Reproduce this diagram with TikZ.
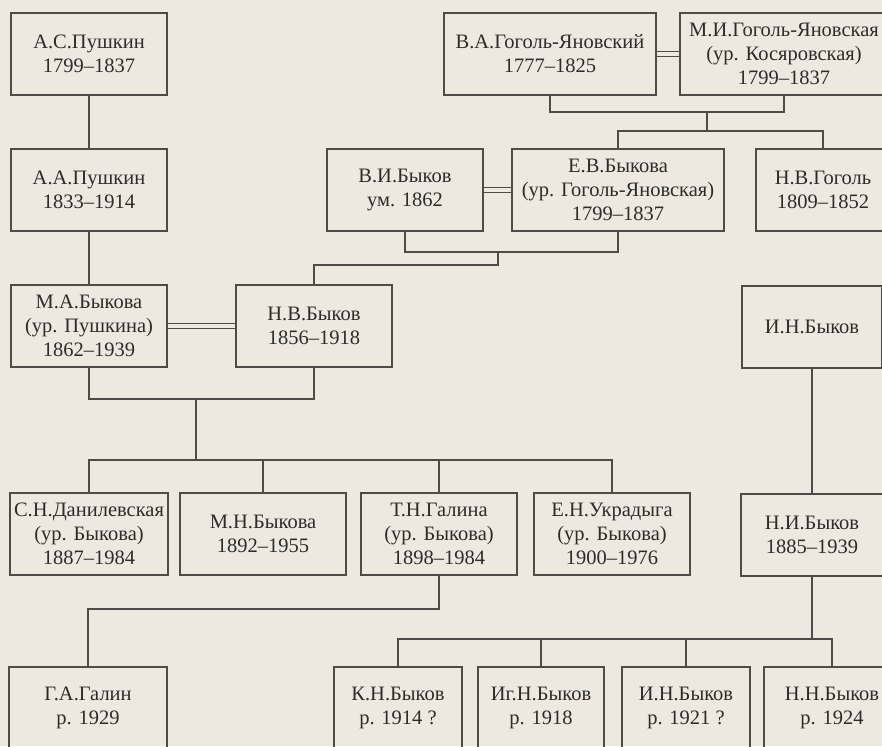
\documentclass[tikz,border=0pt]{standalone}
\usepackage{fontspec}
\setmainfont{Liberation Serif}
\definecolor{bgc}{HTML}{EDE9E1}
\definecolor{lnc}{HTML}{4E4B48}
\definecolor{txc}{HTML}{2E2C2A}
\begin{document}
\begin{tikzpicture}[x=1pt,y=-1pt,
  pb/.style={draw=lnc, line width=1.1pt, rectangle, inner sep=0pt, minimum height=82pt,
    align=center, text=txc, font=\fontsize{20.5}{24}\selectfont},
  ln/.style={draw=lnc, line width=1.1pt},
  wed/.style={draw=lnc, line width=1pt, double=bgc, double distance=4.5pt}]
\useasboundingbox (0,0) rectangle (882,746);
\clip (0,0) rectangle (882,746);
\fill[bgc] (0,0) rectangle (882,746);
% nodes
\node[pb, minimum width=156pt] (p1) at (89,54) {А.С.Пушкин\\1799–1837};
\node[pb, minimum width=156pt] (p2) at (89,190) {А.А.Пушкин\\1833–1914};
\node[pb, minimum width=212pt] (va) at (550,54) {В.А.Гоголь-Яновский\\1777–1825};
\node[pb, minimum width=208pt] (mi) at (784,54) {М.И.Гоголь-Яновская\\(ур. Косяровская)\\1799–1837};
\node[pb, minimum width=156pt] (vi) at (405,190) {В.И.Быков\\ум. 1862};
\node[pb, minimum width=212pt] (ev) at (618,190) {Е.В.Быкова\\(ур. Гоголь-Яновская)\\1799–1837};
\node[pb, minimum width=134pt] (ng) at (823,190) {Н.В.Гоголь\\1809–1852};
\node[pb, minimum width=156pt] (mab) at (89,326) {М.А.Быкова\\(ур. Пушкина)\\1862–1939};
\node[pb, minimum width=156pt] (nb) at (314,326) {Н.В.Быков\\1856–1918};
\node[pb, minimum width=140pt] (ib) at (812,327) {И.Н.Быков};
\node[pb, minimum width=158pt] (sn) at (89,534) {С.Н.Данилевская\\(ур. Быкова)\\1887–1984};
\node[pb, minimum width=166pt] (mn) at (263,534) {М.Н.Быкова\\1892–1955};
\node[pb, minimum width=156pt] (tg) at (439,534) {Т.Н.Галина\\(ур. Быкова)\\1898–1984};
\node[pb, minimum width=156pt] (en) at (612,534) {Е.Н.Украдыга\\(ур. Быкова)\\1900–1976};
\node[pb, minimum width=142pt] (nib) at (812,535) {Н.И.Быков\\1885–1939};
\node[pb, minimum width=158pt] (ga) at (88,708) {Г.А.Галин\\р. 1929};
\node[pb, minimum width=128pt] (kn) at (398,708) {К.Н.Быков\\р. 1914 ?};
\node[pb, minimum width=126pt] (ig) at (541,708) {Иг.Н.Быков\\р. 1918};
\node[pb, minimum width=128pt] (in) at (686,708) {И.Н.Быков\\р. 1921 ?};
\node[pb, minimum width=136pt] (nn) at (832,708) {Н.Н.Быков\\р. 1924};
% marriages
\draw[wed] (va.east) -- (mi.west);
\draw[wed] (vi.east) -- (ev.west);
\draw[wed] (mab.east) -- (nb.west);
% coordinates
\coordinate (m1) at (707,112);
\coordinate (c1) at (707,131);
\coordinate (m2) at (498,252);
\coordinate (c2) at (498,265);
\coordinate (m3) at (196,399);
\coordinate (c3) at (196,460);
\coordinate (c4) at (812,639);
\coordinate (c5) at (88,609);
% connectors
\draw[ln] (p1.south) -- (p2.north);
\draw[ln] (p2.south) -- (mab.north);
\draw[ln] (va.south) |- (m1) -| (mi.south);
\draw[ln] (m1) -- (c1);
\draw[ln] (ev.north) |- (c1) -| (ng.north);
\draw[ln] (vi.south) |- (m2) -| (ev.south);
\draw[ln] (m2) -- (c2) -| (nb.north);
\draw[ln] (mab.south) |- (m3) -| (nb.south);
\draw[ln] (m3) -- (c3);
\draw[ln] (sn.north) |- (c3) -| (en.north);
\draw[ln] (mn.north) -- (mn.north |- c3);
\draw[ln] (tg.north) -- (tg.north |- c3);
\draw[ln] (ib.south) -- (nib.north);
\draw[ln] (nib.south) -- (c4);
\draw[ln] (kn.north) |- (c4) -| (nn.north);
\draw[ln] (ig.north) -- (ig.north |- c4);
\draw[ln] (in.north) -- (in.north |- c4);
\draw[ln] (tg.south) |- (c5) -- (ga.north);
\end{tikzpicture}
\end{document}
